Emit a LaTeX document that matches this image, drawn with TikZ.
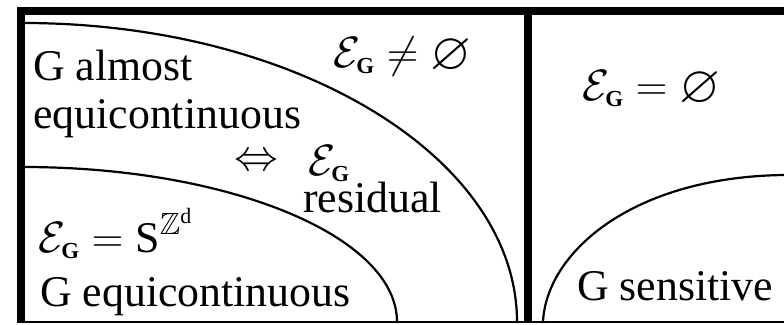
\RequirePackage{fix-cm}
\documentclass[tikz,border=0pt]{standalone}
\usepackage{amsmath,amssymb,graphicx}
\usepackage{fontspec}
\setmainfont{Liberation Serif}
\usepackage{tikz}
\usetikzlibrary{positioning}
\newcommand{\eg}{\mathcal{E}_{\mbox{\fontsize{23}{23}\selectfont\bfseries G}}}
\newcommand{\nix}{\raisebox{-2bp}{\scalebox{1.2}{$\varnothing$}}}

\begin{document}
\begin{tikzpicture}[x=1bp, y=1bp,
  frame/.style={line width=8bp, line join=miter},
  curve/.style={line width=2.2bp},
  lbl/.style={inner sep=0pt, anchor=base west, font={\fontsize{44}{52}\selectfont}}]
  \useasboundingbox (0,0) rectangle (784,324);
  \draw[curve] (23,301) arc[start angle=90, end angle=0, x radius=494bp, y radius=299bp];
  \draw[curve] (23,157) arc[start angle=90, end angle=0, x radius=374bp, y radius=155bp];
  \draw[curve] (543,2) .. controls (546,70) and (630,147) .. (784,149);
  \draw[frame] (784,313) -- (21,313) -- (21,2);
  \draw[frame] (528,313) -- (528,2);
  \draw[line width=1.5bp] (17,2) -- (784,2);
  \node[lbl] (alm) at (33,244) {G almost};
  \node[lbl] (equi) at (33,196) {equicontinuous};
  \node[lbl] (neq) at (333,257) {$\eg\neq\nix$};
  \node[lbl] (iff) at (234,154) {$\Leftrightarrow$};
  \node[lbl] (res) at (308,149) {$\eg$};
  \node[lbl] (resid) at (303,112) {residual};
  \node[lbl] (full) at (38,72) {$\eg=\text{S}^{\mathbb{Z}^{\text{d}}}$};
  \node[lbl] (eq) at (40,18) {G equicontinuous};
  \node[lbl] (emp) at (582,224) {$\eg=\nix$};
  \node[lbl] (sens) at (577,24) {G sensitive};
\end{tikzpicture}
\end{document}
